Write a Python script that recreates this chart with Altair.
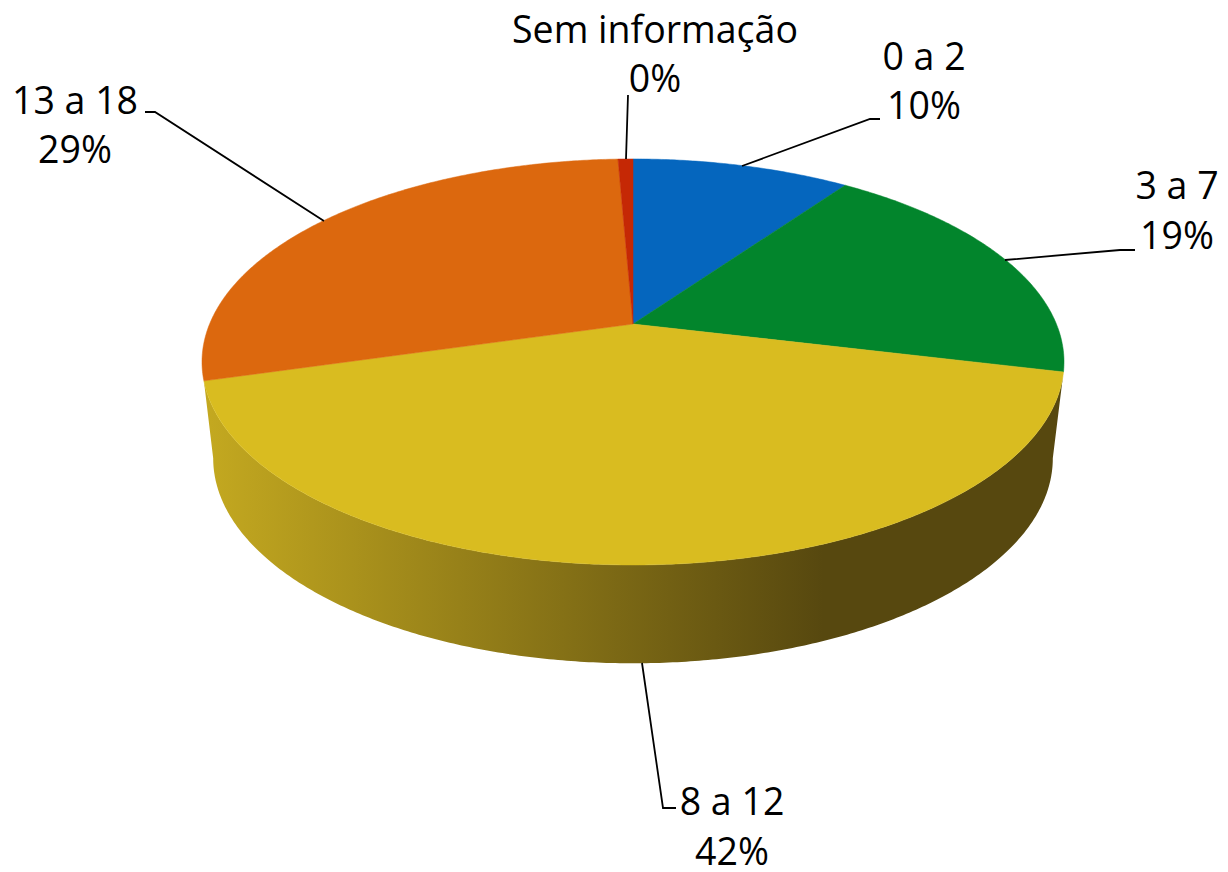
import numpy as np
import altair as alt

categories = ["0 a 2", "3 a 7", "8 a 12", "13 a 18", "Sem informação"]
values = [9.8, 18.96, 41.8, 28.77, 0.67]
percent_labels = ["10%", "19%", "42%", "29%", "0%"]
colors = ["#0566be", "#02852c", "#d9bc20", "#dc680e", "#c52805"]

# layout only: perspective pie parameters in page pixels
CX = 633
TOP = dict(cy=324, a=423.4, b=195.9, k=0.187)
BOT = dict(cy=420, a=412.4, b=197.8, k=0.187)
M = 8

label_pos = {
    "0 a 2": (924, 70, 119), "3 a 7": (1177, 199, 249), "8 a 12": (732, 815, 865),
    "13 a 18": (75, 114, 163), "Sem informação": (655, 43, 92),
}
leaders = {
    "0 a 2": [(880, 119), (870, 119), (742, 166)],
    "3 a 7": [(1135, 250), (1120, 250), (1005, 260)],
    "8 a 12": [(642, 663), (663, 808), (676, 808)],
    "13 a 18": [(145, 112), (155, 112), (324, 221)],
    "Sem informação": [(628, 95), (626, 159)],
}


def pt(theta, p):
    c, s = np.cos(theta), np.sin(theta)
    d = 1 + p["k"] * c
    return [float(CX + p["a"] * s / d - M), float(p["cy"] - p["b"] * c / d - M)]


def arc(t0, t1, p, step=0.5):
    n = max(2, int(abs(t1 - t0) / step) + 1)
    return [pt(np.radians(t), p) for t in np.linspace(t0, t1, n)]


def feature(coords, color=None, kind="Polygon"):
    geom = {"type": kind, "coordinates": [coords] if kind == "Polygon" else coords}
    return {"type": "Feature", "geometry": geom, "properties": {"color": color}}


edges = np.concatenate([[0], np.cumsum(values)]) / sum(values) * 360
centre = [CX - M, TOP["cy"] - M]
wedges = []
for i, col in enumerate(colors):
    ring = [centre] + arc(edges[i], edges[i + 1], TOP) + [centre]
    wedges.append(feature(ring[::-1], col))

# side wall: front rim of the yellow slice down to the lower rim
t_r, t_l = edges[2], edges[3]
t_ext = np.degrees(np.arccos(-BOT["k"]))
wall_ring = arc(t_r, t_l, TOP) + arc(360 - t_ext, t_ext, BOT)
wall_ring.append(wall_ring[0])
wall = [feature(wall_ring[::-1])]

lines = [feature([[x - M, y - M] for x, y in leaders[c]], "black", "LineString") for c in categories]

text_rows = []
for c, p in zip(categories, percent_labels):
    x, y1, y2 = label_pos[c]
    text_rows.append({"t": c, "lon": x - M, "lat": y1 - M})
    text_rows.append({"t": p, "lon": x - M, "lat": y2 - M})

proj = alt.Projection(type="identity", scale=1, translate=[0, 0])

gradient = alt.LinearGradient(
    gradient="linear", x1=0, x2=1, y1=0, y2=0,
    stops=[
        alt.GradientStop(offset=0, color="#c4a920"),
        alt.GradientStop(offset=0.72, color="#57480f"),
        alt.GradientStop(offset=1, color="#57480f"),
    ],
)

wall_layer = alt.Chart(alt.Data(values=wall)).mark_geoshape(fill=gradient, stroke=None).project(**proj.to_dict())
wedge_layer = (
    alt.Chart(alt.Data(values=wedges))
    .mark_geoshape(strokeWidth=0.5)
    .encode(fill=alt.Fill("properties.color:N", scale=None), stroke=alt.Stroke("properties.color:N", scale=None))
    .project(**proj.to_dict())
)
line_layer = (
    alt.Chart(alt.Data(values=lines))
    .mark_geoshape(filled=False, stroke="black", strokeWidth=1.8)
    .project(**proj.to_dict())
)
text_layer = (
    alt.Chart(alt.Data(values=text_rows))
    .mark_text(font="Open Sans", fontSize=37.5, color="black", align="center", baseline="alphabetic")
    .encode(longitude="lon:Q", latitude="lat:Q", text="t:N")
    .project(**proj.to_dict())
)

chart = (
    alt.layer(wall_layer, wedge_layer, line_layer, text_layer)
    .properties(width=1212, height=862, padding=0, autosize=alt.AutoSizeParams(type="none"))
    .configure_view(stroke=None)
)
chart.save("out.html", embed_options={"renderer": "svg", "actions": False})
